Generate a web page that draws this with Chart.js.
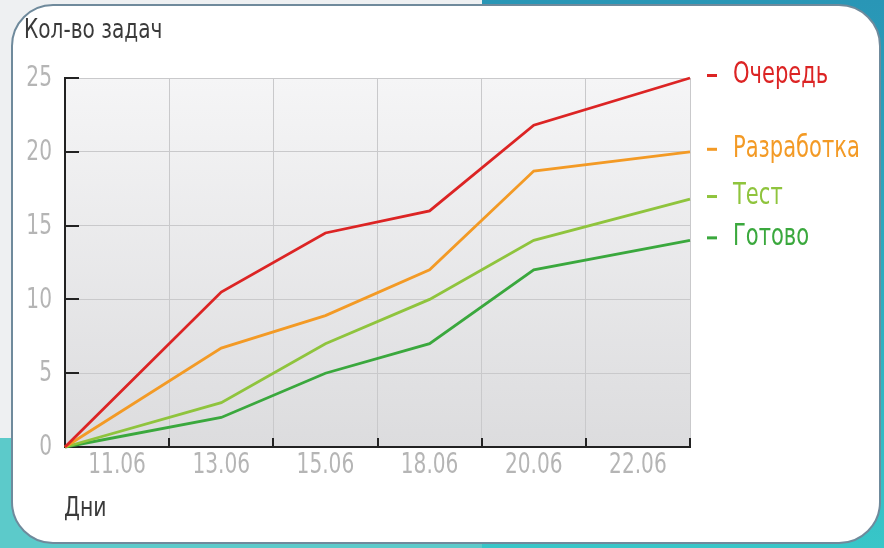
<!DOCTYPE html>
<html>
<head>
<meta charset="utf-8">
<script src="https://cdn.jsdelivr.net/npm/chart.js@4/dist/chart.umd.min.js"></script>
<style>
    html, body { margin: 0; padding: 0; }
    body {
        width: 884px; height: 548px; overflow: hidden; position: relative;
        background: linear-gradient(180deg, #2996b6 0%, #2fb0c0 60%, #38c6c8 100%);
    }
    .ui-strip { position: absolute; left: 0; top: 0; width: 482px; height: 438px; background: #eef0f2; }
    .ui-strip2 { position: absolute; left: 0; top: 438px; width: 482px; height: 110px; background: #5ccaca; }
    .panel {
        position: absolute; left: 11px; top: 4px; width: 866px; height: 536px;
        background: #fff; border: 2px solid #6f8a9c; border-radius: 42px;
    }
    #wrap { position: absolute; left: 0; top: 0; width: 884px; height: 548px; }
</style>
</head>
<body>
<div class="ui-strip"></div>
<div class="ui-strip2"></div>
<div class="panel"></div>
<div id="wrap"><canvas id="chart"></canvas></div>
<script>
// данные графика
const days = ['11.06', '13.06', '15.06', '18.06', '20.06', '22.06'];
const pointPos = [0, 1.5, 2.5, 3.5, 4.5, 6];
const queue = [0, 10.5, 14.5, 16, 21.8, 25];
const dev = [0, 6.7, 8.9, 12, 18.7, 20];
const test = [0, 3, 7, 10, 14, 16.8];
const done = [0, 2, 5, 7, 12, 14];
const seriesNames = ['Очередь', 'Разработка', 'Тест', 'Готово'];
const seriesColors = ['#dc2424', '#f39a25', '#8fc43d', '#3aa83d'];

const FONT = "'Liberation Sans Narrow', 'DejaVu Sans Condensed', 'Roboto Condensed', Roboto, sans-serif";

const toPoints = vals => vals.map((v, i) => ({ x: pointPos[i], y: v }));

// узкий текст: сжимаем по горизонтали
function drawText(ctx, text, x, y, size, color, align, sx) {
    ctx.save();
    ctx.font = size + 'px ' + FONT;
    ctx.fillStyle = color;
    ctx.textBaseline = 'middle';
    ctx.textAlign = align;
    ctx.translate(x, y);
    ctx.scale(sx, 1);
    ctx.fillText(text, 0, 0);
    ctx.restore();
}

// фон области графика + засечки + подписи
const areaPlugin = {
    id: 'area',
    beforeDraw(chart) {
        const { ctx, chartArea: a } = chart;
        const g = ctx.createLinearGradient(0, a.top, 0, a.bottom);
        g.addColorStop(0, '#f5f5f6');
        g.addColorStop(1, '#dcdcde');
        ctx.save();
        ctx.fillStyle = g;
        ctx.fillRect(a.left, a.top, a.right - a.left, a.bottom - a.top);
        ctx.restore();
    },
    afterDraw(chart) {
        const { ctx, chartArea: a, scales } = chart;
        ctx.save();
        ctx.strokeStyle = '#222';
        ctx.lineWidth = 2;
        scales.y.ticks.forEach(t => {
            if (t.value === 0) return;
            const y = Math.round(scales.y.getPixelForValue(t.value));
            ctx.beginPath();
            ctx.moveTo(a.left, y);
            ctx.lineTo(a.left + 14, y);
            ctx.stroke();
        });
        for (let i = 1; i <= days.length; i++) {
            const x = Math.round(scales.xv.getPixelForValue(i));
            ctx.beginPath();
            ctx.moveTo(x, a.bottom);
            ctx.lineTo(x, a.bottom - 9);
            ctx.stroke();
        }
        ctx.restore();

        // подписи делений
        scales.y.ticks.forEach(t => {
            drawText(ctx, String(t.value), 52, scales.y.getPixelForValue(t.value) + 1, 28, '#b5b5b5', 'right', 0.8);
        });
        days.forEach((d, i) => {
            drawText(ctx, d, scales.x.getPixelForValue(i), 466, 28, '#b5b5b5', 'center', 0.8);
        });

        // подписи серий справа
        chart.data.datasets.forEach((ds, i) => {
            const last = ds.data[ds.data.length - 1];
            const y = scales.y.getPixelForValue(last.y) - 3;
            ctx.fillStyle = seriesColors[i];
            ctx.fillRect(a.right + 17, y - 1, 10, 3);
            drawText(ctx, seriesNames[i], a.right + 43, y, 30, seriesColors[i], 'left', 0.78);
        });

        // заголовки осей
        drawText(ctx, 'Кол-во задач', 24, 31, 26, '#3a3a3a', 'left', 0.86);
        drawText(ctx, 'Дни', 64, 509, 27, '#3a3a3a', 'left', 0.84);
    }
};

new Chart(document.getElementById('chart'), {
    type: 'line',
    data: {
        labels: days,
        datasets: [queue, dev, test, done].map((vals, i) => ({
            label: seriesNames[i],
            data: toPoints(vals),
            xAxisID: 'xv',
            borderColor: seriesColors[i],
            borderWidth: 2.8,
            pointRadius: 0,
            tension: 0,
            clip: false
        }))
    },
    options: {
        responsive: true,
        maintainAspectRatio: false,
        animation: false,
        layout: { padding: { left: 0, right: 194, top: 78, bottom: 0 } },
        plugins: { legend: { display: false }, tooltip: { enabled: false } },
        scales: {
            x: {
                type: 'category',
                offset: true,
                grid: { offset: true, color: '#c9c9cb', lineWidth: 1, drawTicks: false },
                border: { color: '#222', width: 2 },
                ticks: { color: 'rgba(0,0,0,0)', font: { family: FONT, size: 25 }, padding: 5 },
                afterFit(s) { s.height = 101; }
            },
            xv: { type: 'linear', min: 0, max: 6, display: false },
            y: {
                min: 0, max: 25,
                grid: { color: '#c9c9cb', lineWidth: 1, drawTicks: false },
                border: { color: '#222', width: 2 },
                ticks: { stepSize: 5, color: 'rgba(0,0,0,0)', font: { family: FONT, size: 25 }, padding: 13 },
                afterFit(s) { s.width = 65; }
            }
        }
    },
    plugins: [areaPlugin]
});
</script>
</body>
</html>
